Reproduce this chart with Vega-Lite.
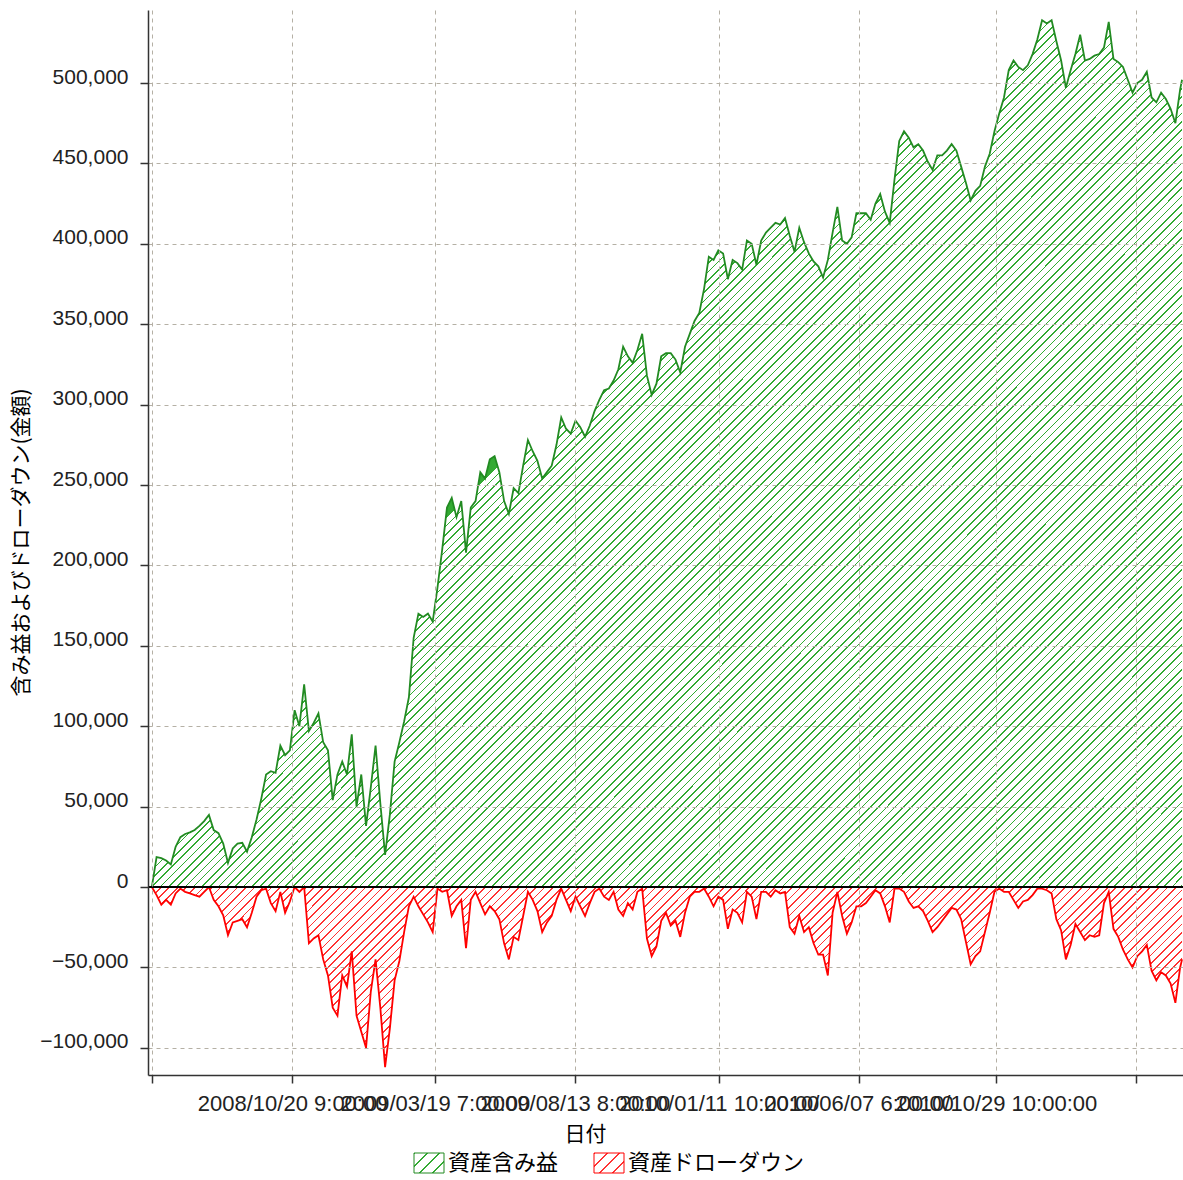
{
"$schema":"https://vega.github.io/schema/vega-lite/v6.json",
"width":1035,"height":1065,
"autosize":{"type":"none"},
"padding":{"left":148,"top":10,"right":0,"bottom":105},
"background":"white",
"data":{"values":[
{"date":"2008-05-26","eq":0,"dd":0},{"date":"2008-05-31","eq":18600,"dd":-5000},{"date":"2008-06-05","eq":18000,"dd":-11000},{"date":"2008-06-10","eq":16500,"dd":-8000},{"date":"2008-06-15","eq":14000,"dd":-11000},{"date":"2008-06-20","eq":25000,"dd":-4000},{"date":"2008-06-25","eq":31000,"dd":-1000},{"date":"2008-06-30","eq":33000,"dd":-3000},
{"date":"2008-07-05","eq":34000,"dd":-4000},{"date":"2008-07-10","eq":35500,"dd":-5000},{"date":"2008-07-15","eq":38000,"dd":-6000},{"date":"2008-07-20","eq":41000,"dd":-3000},{"date":"2008-07-25","eq":44800,"dd":0},{"date":"2008-07-30","eq":35400,"dd":-8000},
{"date":"2008-08-04","eq":33500,"dd":-12000},{"date":"2008-08-09","eq":27000,"dd":-17600},{"date":"2008-08-14","eq":15000,"dd":-30000},{"date":"2008-08-19","eq":24000,"dd":-22000},{"date":"2008-08-24","eq":27000,"dd":-21000},{"date":"2008-08-29","eq":27500,"dd":-20000},
{"date":"2008-09-03","eq":22000,"dd":-25000},{"date":"2008-09-08","eq":31000,"dd":-16000},{"date":"2008-09-13","eq":42000,"dd":-6000},{"date":"2008-09-18","eq":55000,"dd":-2000},{"date":"2008-09-23","eq":70000,"dd":-1000},{"date":"2008-09-28","eq":72000,"dd":-10000},
{"date":"2008-10-03","eq":71000,"dd":-15000},{"date":"2008-10-08","eq":88000,"dd":-3000},{"date":"2008-10-13","eq":82000,"dd":-16000},{"date":"2008-10-18","eq":85000,"dd":-9000},{"date":"2008-10-23","eq":110000,"dd":0},{"date":"2008-10-28","eq":100000,"dd":-3000},
{"date":"2008-11-02","eq":126000,"dd":0},{"date":"2008-11-07","eq":97000,"dd":-35000},{"date":"2008-11-12","eq":102000,"dd":-32000},{"date":"2008-11-17","eq":108000,"dd":-30000},{"date":"2008-11-22","eq":90000,"dd":-45000},{"date":"2008-11-27","eq":85000,"dd":-55000},
{"date":"2008-12-02","eq":54000,"dd":-75000},{"date":"2008-12-07","eq":70000,"dd":-80000},{"date":"2008-12-12","eq":78000,"dd":-55000},{"date":"2008-12-17","eq":70000,"dd":-62000},{"date":"2008-12-22","eq":95000,"dd":-40000},{"date":"2008-12-27","eq":50000,"dd":-80000},
{"date":"2009-01-01","eq":70000,"dd":-90000},{"date":"2009-01-06","eq":38000,"dd":-100000},{"date":"2009-01-11","eq":62000,"dd":-65000},{"date":"2009-01-16","eq":88000,"dd":-45000},{"date":"2009-01-21","eq":52000,"dd":-75000},{"date":"2009-01-26","eq":20000,"dd":-112000},{"date":"2009-01-31","eq":45000,"dd":-88000},
{"date":"2009-02-05","eq":78000,"dd":-58000},{"date":"2009-02-10","eq":90000,"dd":-46000},{"date":"2009-02-15","eq":103000,"dd":-28000},{"date":"2009-02-20","eq":118000,"dd":-12000},{"date":"2009-02-25","eq":155000,"dd":-6000},
{"date":"2009-03-02","eq":170000,"dd":-12000},{"date":"2009-03-07","eq":168000,"dd":-17000},{"date":"2009-03-12","eq":170000,"dd":-22000},{"date":"2009-03-17","eq":165000,"dd":-28000},{"date":"2009-03-22","eq":186000,"dd":-1000},{"date":"2009-03-27","eq":210000,"dd":-3000},
{"date":"2009-04-01","eq":236000,"dd":-2000},{"date":"2009-04-06","eq":242000,"dd":-18000},{"date":"2009-04-11","eq":230000,"dd":-12000},{"date":"2009-04-16","eq":240000,"dd":-8000},{"date":"2009-04-21","eq":208000,"dd":-38000},{"date":"2009-04-26","eq":236000,"dd":-8000},
{"date":"2009-05-01","eq":240000,"dd":-3000},{"date":"2009-05-06","eq":258000,"dd":-10000},{"date":"2009-05-11","eq":254000,"dd":-17000},{"date":"2009-05-16","eq":266000,"dd":-12000},{"date":"2009-05-21","eq":268000,"dd":-15000},{"date":"2009-05-26","eq":258000,"dd":-20000},{"date":"2009-05-31","eq":240000,"dd":-35000},
{"date":"2009-06-05","eq":232000,"dd":-45000},{"date":"2009-06-10","eq":248000,"dd":-31000},{"date":"2009-06-15","eq":245000,"dd":-33000},{"date":"2009-06-20","eq":262000,"dd":-18000},{"date":"2009-06-25","eq":278000,"dd":-3000},{"date":"2009-06-30","eq":271000,"dd":-8000},
{"date":"2009-07-05","eq":265000,"dd":-15000},{"date":"2009-07-10","eq":254000,"dd":-28000},{"date":"2009-07-15","eq":258000,"dd":-22000},{"date":"2009-07-20","eq":262000,"dd":-18000},{"date":"2009-07-25","eq":275000,"dd":-8000},{"date":"2009-07-30","eq":292000,"dd":-1000},
{"date":"2009-08-04","eq":285000,"dd":-8000},{"date":"2009-08-09","eq":282000,"dd":-15000},{"date":"2009-08-14","eq":290000,"dd":-6000},{"date":"2009-08-19","eq":286000,"dd":-12000},{"date":"2009-08-24","eq":280000,"dd":-18000},{"date":"2009-08-29","eq":287000,"dd":-10000},
{"date":"2009-09-03","eq":296000,"dd":-3000},{"date":"2009-09-08","eq":303000,"dd":-1000},{"date":"2009-09-13","eq":309000,"dd":-6000},{"date":"2009-09-18","eq":310000,"dd":-8000},{"date":"2009-09-23","eq":315000,"dd":-3000},{"date":"2009-09-28","eq":322000,"dd":-14000},
{"date":"2009-10-03","eq":336000,"dd":-18000},{"date":"2009-10-08","eq":330000,"dd":-10000},{"date":"2009-10-13","eq":326000,"dd":-14000},{"date":"2009-10-18","eq":334000,"dd":-3000},{"date":"2009-10-23","eq":344000,"dd":-1000},{"date":"2009-10-28","eq":318000,"dd":-32000},
{"date":"2009-11-02","eq":306000,"dd":-43000},{"date":"2009-11-07","eq":313000,"dd":-37000},{"date":"2009-11-12","eq":330000,"dd":-21000},{"date":"2009-11-17","eq":332000,"dd":-16000},{"date":"2009-11-22","eq":332000,"dd":-24000},{"date":"2009-11-27","eq":328000,"dd":-21000},
{"date":"2009-12-02","eq":320000,"dd":-31000},{"date":"2009-12-07","eq":336000,"dd":-16000},{"date":"2009-12-12","eq":344000,"dd":-6000},{"date":"2009-12-17","eq":352000,"dd":-3000},{"date":"2009-12-22","eq":357000,"dd":-3000},{"date":"2009-12-27","eq":372000,"dd":-1000},
{"date":"2010-01-01","eq":392000,"dd":-6000},{"date":"2010-01-06","eq":390000,"dd":-12000},{"date":"2010-01-11","eq":396000,"dd":-6000},{"date":"2010-01-16","eq":394000,"dd":-8000},{"date":"2010-01-21","eq":378000,"dd":-26000},{"date":"2010-01-26","eq":390000,"dd":-14000},{"date":"2010-01-31","eq":388000,"dd":-16000},
{"date":"2010-02-05","eq":384000,"dd":-22000},{"date":"2010-02-10","eq":402000,"dd":-3000},{"date":"2010-02-15","eq":400000,"dd":-6000},{"date":"2010-02-20","eq":387000,"dd":-20000},{"date":"2010-02-25","eq":402000,"dd":-3000},
{"date":"2010-03-02","eq":407000,"dd":-3000},{"date":"2010-03-07","eq":410000,"dd":-6000},{"date":"2010-03-12","eq":413000,"dd":-2000},{"date":"2010-03-17","eq":412000,"dd":-4000},{"date":"2010-03-22","eq":416000,"dd":-3000},{"date":"2010-03-27","eq":405000,"dd":-25000},
{"date":"2010-04-01","eq":395000,"dd":-29000},{"date":"2010-04-06","eq":410000,"dd":-18000},{"date":"2010-04-11","eq":401000,"dd":-28000},{"date":"2010-04-16","eq":394000,"dd":-25000},{"date":"2010-04-21","eq":389000,"dd":-35000},{"date":"2010-04-26","eq":386000,"dd":-42000},
{"date":"2010-05-01","eq":379000,"dd":-42000},{"date":"2010-05-06","eq":390000,"dd":-55000},{"date":"2010-05-11","eq":407000,"dd":-16000},{"date":"2010-05-16","eq":423000,"dd":-3000},{"date":"2010-05-21","eq":402000,"dd":-18000},{"date":"2010-05-26","eq":400000,"dd":-29000},{"date":"2010-05-31","eq":404000,"dd":-22000},
{"date":"2010-06-05","eq":419000,"dd":-12000},{"date":"2010-06-10","eq":419000,"dd":-12000},{"date":"2010-06-15","eq":419000,"dd":-10000},{"date":"2010-06-20","eq":415000,"dd":-6000},{"date":"2010-06-25","eq":425000,"dd":-2000},{"date":"2010-06-30","eq":431000,"dd":-4000},
{"date":"2010-07-05","eq":420000,"dd":-12000},{"date":"2010-07-10","eq":413000,"dd":-22000},{"date":"2010-07-15","eq":440000,"dd":-1000},{"date":"2010-07-20","eq":464000,"dd":-1000},{"date":"2010-07-25","eq":470000,"dd":-3000},{"date":"2010-07-30","eq":466000,"dd":-9000},
{"date":"2010-08-04","eq":460000,"dd":-13000},{"date":"2010-08-09","eq":462000,"dd":-12000},{"date":"2010-08-14","eq":458000,"dd":-15000},{"date":"2010-08-19","eq":451000,"dd":-21000},{"date":"2010-08-24","eq":446000,"dd":-28000},{"date":"2010-08-29","eq":455000,"dd":-25000},
{"date":"2010-09-03","eq":455000,"dd":-21000},{"date":"2010-09-08","eq":458000,"dd":-17000},{"date":"2010-09-13","eq":462000,"dd":-13000},{"date":"2010-09-18","eq":458000,"dd":-14000},{"date":"2010-09-23","eq":448000,"dd":-20000},{"date":"2010-09-28","eq":438000,"dd":-34000},
{"date":"2010-10-03","eq":427000,"dd":-48000},{"date":"2010-10-08","eq":433000,"dd":-43000},{"date":"2010-10-13","eq":436000,"dd":-40000},{"date":"2010-10-18","eq":448000,"dd":-28000},{"date":"2010-10-23","eq":456000,"dd":-16000},{"date":"2010-10-28","eq":470000,"dd":-3000},
{"date":"2010-11-02","eq":481000,"dd":-1000},{"date":"2010-11-07","eq":491000,"dd":-3000},{"date":"2010-11-12","eq":508000,"dd":-3000},{"date":"2010-11-17","eq":514000,"dd":-8000},{"date":"2010-11-22","eq":510000,"dd":-13000},{"date":"2010-11-27","eq":508000,"dd":-9000},
{"date":"2010-12-02","eq":511000,"dd":-8000},{"date":"2010-12-07","eq":518000,"dd":-5000},{"date":"2010-12-12","eq":527000,"dd":-1000},{"date":"2010-12-17","eq":539000,"dd":-1000},{"date":"2010-12-22","eq":537000,"dd":-2000},{"date":"2010-12-27","eq":539000,"dd":-4000},
{"date":"2011-01-01","eq":526000,"dd":-20000},{"date":"2011-01-06","eq":514000,"dd":-27000},{"date":"2011-01-11","eq":497000,"dd":-45000},{"date":"2011-01-16","eq":508000,"dd":-36000},{"date":"2011-01-21","eq":518000,"dd":-23000},{"date":"2011-01-26","eq":530000,"dd":-28000},{"date":"2011-01-31","eq":514000,"dd":-33000},
{"date":"2011-02-05","eq":515000,"dd":-30000},{"date":"2011-02-10","eq":517000,"dd":-31000},{"date":"2011-02-15","eq":518000,"dd":-30000},{"date":"2011-02-20","eq":522000,"dd":-10000},{"date":"2011-02-25","eq":538000,"dd":-3000},
{"date":"2011-03-02","eq":515000,"dd":-26000},{"date":"2011-03-07","eq":513000,"dd":-31000},{"date":"2011-03-12","eq":510000,"dd":-39000},{"date":"2011-03-17","eq":502000,"dd":-45000},{"date":"2011-03-22","eq":494000,"dd":-50000},{"date":"2011-03-27","eq":500000,"dd":-43000},
{"date":"2011-04-01","eq":502000,"dd":-40000},{"date":"2011-04-06","eq":507000,"dd":-36000},{"date":"2011-04-11","eq":491000,"dd":-52000},{"date":"2011-04-16","eq":488000,"dd":-58000},{"date":"2011-04-21","eq":494000,"dd":-53000},{"date":"2011-04-26","eq":490000,"dd":-55000},
{"date":"2011-05-01","eq":484000,"dd":-60000},{"date":"2011-05-06","eq":475000,"dd":-72000},{"date":"2011-05-11","eq":496000,"dd":-50000},{"date":"2011-05-13","eq":502000,"dd":-45000}
]},
"layer":[
{"encoding":{"x":{"field":"date","type":"temporal","title":"日付",
  "scale":{"domain":[{"year":2008,"month":5,"date":22},{"year":2011,"month":5,"date":14}]},
  "axis":{"zindex":1,"values":[{"year":2008,"month":5,"date":26,"hours":5},{"year":2008,"month":10,"date":20,"hours":9},{"year":2009,"month":3,"date":19,"hours":7},{"year":2009,"month":8,"date":13,"hours":8},{"year":2010,"month":1,"date":11,"hours":10},{"year":2010,"month":6,"date":7,"hours":6},{"year":2010,"month":10,"date":29,"hours":10},{"year":2011,"month":3,"date":25,"hours":14}],
   "labelExpr":"datum.value < datetime(2008,6,1) || datum.value > datetime(2011,0,1) ? '' : timeFormat(datum.value, '%Y/%m/%d %-H:%M:%S')",
   "labelOverlap":false,"labelBound":false,"labelFlush":false,"labelPadding":10,"labelFontSize":22,"labelLimit":0,
   "titleX":437,"titleY":59,"titleBaseline":"middle","titleAlign":"center","titleAnchor":"start"}}},
 "layer":[
  {"mark":{"type":"area","fill":{"gradient":"linear","x1":0.4495,"y1":0.3779,"x2":1.0785,"y2":0.9066,"stops":[
{"offset":0,"color":"#3a3"},{"offset":0.0015,"color":"#3a3"},{"offset":0.0015,"color":"#fff"},{"offset":0.0075,"color":"#fff"},{"offset":0.0075,"color":"#3a3"},{"offset":0.009,"color":"#3a3"},{"offset":0.009,"color":"#fff"},{"offset":0.015,"color":"#fff"},{"offset":0.015,"color":"#3a3"},{"offset":0.0165,"color":"#3a3"},{"offset":0.0165,"color":"#fff"},{"offset":0.0225,"color":"#fff"},{"offset":0.0225,"color":"#3a3"},{"offset":0.024,"color":"#3a3"},{"offset":0.024,"color":"#fff"},{"offset":0.03,"color":"#fff"},
{"offset":0.03,"color":"#3a3"},{"offset":0.0315,"color":"#3a3"},{"offset":0.0315,"color":"#fff"},{"offset":0.0375,"color":"#fff"},{"offset":0.0375,"color":"#3a3"},{"offset":0.039,"color":"#3a3"},{"offset":0.039,"color":"#fff"},{"offset":0.045,"color":"#fff"},{"offset":0.045,"color":"#3a3"},{"offset":0.0465,"color":"#3a3"},{"offset":0.0465,"color":"#fff"},{"offset":0.0525,"color":"#fff"},{"offset":0.0525,"color":"#3a3"},{"offset":0.054,"color":"#3a3"},{"offset":0.054,"color":"#fff"},{"offset":0.06,"color":"#fff"},
{"offset":0.06,"color":"#3a3"},{"offset":0.0615,"color":"#3a3"},{"offset":0.0615,"color":"#fff"},{"offset":0.0675,"color":"#fff"},{"offset":0.0675,"color":"#3a3"},{"offset":0.069,"color":"#3a3"},{"offset":0.069,"color":"#fff"},{"offset":0.075,"color":"#fff"},{"offset":0.075,"color":"#3a3"},{"offset":0.0765,"color":"#3a3"},{"offset":0.0765,"color":"#fff"},{"offset":0.0825,"color":"#fff"},{"offset":0.0825,"color":"#3a3"},{"offset":0.084,"color":"#3a3"},{"offset":0.084,"color":"#fff"},{"offset":0.09,"color":"#fff"},
{"offset":0.09,"color":"#3a3"},{"offset":0.0915,"color":"#3a3"},{"offset":0.0915,"color":"#fff"},{"offset":0.0975,"color":"#fff"},{"offset":0.0975,"color":"#3a3"},{"offset":0.099,"color":"#3a3"},{"offset":0.099,"color":"#fff"},{"offset":0.105,"color":"#fff"},{"offset":0.105,"color":"#3a3"},{"offset":0.1065,"color":"#3a3"},{"offset":0.1065,"color":"#fff"},{"offset":0.1125,"color":"#fff"},{"offset":0.1125,"color":"#3a3"},{"offset":0.114,"color":"#3a3"},{"offset":0.114,"color":"#fff"},{"offset":0.12,"color":"#fff"},
{"offset":0.12,"color":"#3a3"},{"offset":0.1215,"color":"#3a3"},{"offset":0.1215,"color":"#fff"},{"offset":0.1275,"color":"#fff"},{"offset":0.1275,"color":"#3a3"},{"offset":0.129,"color":"#3a3"},{"offset":0.129,"color":"#fff"},{"offset":0.135,"color":"#fff"},{"offset":0.135,"color":"#3a3"},{"offset":0.1365,"color":"#3a3"},{"offset":0.1365,"color":"#fff"},{"offset":0.1425,"color":"#fff"},{"offset":0.1425,"color":"#3a3"},{"offset":0.144,"color":"#3a3"},{"offset":0.144,"color":"#fff"},{"offset":0.15,"color":"#fff"},
{"offset":0.15,"color":"#3a3"},{"offset":0.1515,"color":"#3a3"},{"offset":0.1515,"color":"#fff"},{"offset":0.1575,"color":"#fff"},{"offset":0.1575,"color":"#3a3"},{"offset":0.159,"color":"#3a3"},{"offset":0.159,"color":"#fff"},{"offset":0.165,"color":"#fff"},{"offset":0.165,"color":"#3a3"},{"offset":0.1665,"color":"#3a3"},{"offset":0.1665,"color":"#fff"},{"offset":0.1725,"color":"#fff"},{"offset":0.1725,"color":"#3a3"},{"offset":0.174,"color":"#3a3"},{"offset":0.174,"color":"#fff"},{"offset":0.18,"color":"#fff"},
{"offset":0.18,"color":"#3a3"},{"offset":0.1815,"color":"#3a3"},{"offset":0.1815,"color":"#fff"},{"offset":0.1875,"color":"#fff"},{"offset":0.1875,"color":"#3a3"},{"offset":0.189,"color":"#3a3"},{"offset":0.189,"color":"#fff"},{"offset":0.195,"color":"#fff"},{"offset":0.195,"color":"#3a3"},{"offset":0.1965,"color":"#3a3"},{"offset":0.1965,"color":"#fff"},{"offset":0.2025,"color":"#fff"},{"offset":0.2025,"color":"#3a3"},{"offset":0.204,"color":"#3a3"},{"offset":0.204,"color":"#fff"},{"offset":0.21,"color":"#fff"},
{"offset":0.21,"color":"#3a3"},{"offset":0.2115,"color":"#3a3"},{"offset":0.2115,"color":"#fff"},{"offset":0.2175,"color":"#fff"},{"offset":0.2175,"color":"#3a3"},{"offset":0.219,"color":"#3a3"},{"offset":0.219,"color":"#fff"},{"offset":0.225,"color":"#fff"},{"offset":0.225,"color":"#3a3"},{"offset":0.2265,"color":"#3a3"},{"offset":0.2265,"color":"#fff"},{"offset":0.2325,"color":"#fff"},{"offset":0.2325,"color":"#3a3"},{"offset":0.234,"color":"#3a3"},{"offset":0.234,"color":"#fff"},{"offset":0.24,"color":"#fff"},
{"offset":0.24,"color":"#3a3"},{"offset":0.2415,"color":"#3a3"},{"offset":0.2415,"color":"#fff"},{"offset":0.2475,"color":"#fff"},{"offset":0.2475,"color":"#3a3"},{"offset":0.249,"color":"#3a3"},{"offset":0.249,"color":"#fff"},{"offset":0.255,"color":"#fff"},{"offset":0.255,"color":"#3a3"},{"offset":0.2565,"color":"#3a3"},{"offset":0.2565,"color":"#fff"},{"offset":0.2625,"color":"#fff"},{"offset":0.2625,"color":"#3a3"},{"offset":0.264,"color":"#3a3"},{"offset":0.264,"color":"#fff"},{"offset":0.27,"color":"#fff"},
{"offset":0.27,"color":"#3a3"},{"offset":0.2715,"color":"#3a3"},{"offset":0.2715,"color":"#fff"},{"offset":0.2775,"color":"#fff"},{"offset":0.2775,"color":"#3a3"},{"offset":0.279,"color":"#3a3"},{"offset":0.279,"color":"#fff"},{"offset":0.285,"color":"#fff"},{"offset":0.285,"color":"#3a3"},{"offset":0.2865,"color":"#3a3"},{"offset":0.2865,"color":"#fff"},{"offset":0.2925,"color":"#fff"},{"offset":0.2925,"color":"#3a3"},{"offset":0.294,"color":"#3a3"},{"offset":0.294,"color":"#fff"},{"offset":0.3,"color":"#fff"},
{"offset":0.3,"color":"#3a3"},{"offset":0.3015,"color":"#3a3"},{"offset":0.3015,"color":"#fff"},{"offset":0.3075,"color":"#fff"},{"offset":0.3075,"color":"#3a3"},{"offset":0.309,"color":"#3a3"},{"offset":0.309,"color":"#fff"},{"offset":0.315,"color":"#fff"},{"offset":0.315,"color":"#3a3"},{"offset":0.3165,"color":"#3a3"},{"offset":0.3165,"color":"#fff"},{"offset":0.3225,"color":"#fff"},{"offset":0.3225,"color":"#3a3"},{"offset":0.324,"color":"#3a3"},{"offset":0.324,"color":"#fff"},{"offset":0.33,"color":"#fff"},
{"offset":0.33,"color":"#3a3"},{"offset":0.3315,"color":"#3a3"},{"offset":0.3315,"color":"#fff"},{"offset":0.3375,"color":"#fff"},{"offset":0.3375,"color":"#3a3"},{"offset":0.339,"color":"#3a3"},{"offset":0.339,"color":"#fff"},{"offset":0.345,"color":"#fff"},{"offset":0.345,"color":"#3a3"},{"offset":0.3465,"color":"#3a3"},{"offset":0.3465,"color":"#fff"},{"offset":0.3525,"color":"#fff"},{"offset":0.3525,"color":"#3a3"},{"offset":0.354,"color":"#3a3"},{"offset":0.354,"color":"#fff"},{"offset":0.36,"color":"#fff"},
{"offset":0.36,"color":"#3a3"},{"offset":0.3615,"color":"#3a3"},{"offset":0.3615,"color":"#fff"},{"offset":0.3675,"color":"#fff"},{"offset":0.3675,"color":"#3a3"},{"offset":0.369,"color":"#3a3"},{"offset":0.369,"color":"#fff"},{"offset":0.375,"color":"#fff"},{"offset":0.375,"color":"#3a3"},{"offset":0.3765,"color":"#3a3"},{"offset":0.3765,"color":"#fff"},{"offset":0.3825,"color":"#fff"},{"offset":0.3825,"color":"#3a3"},{"offset":0.384,"color":"#3a3"},{"offset":0.384,"color":"#fff"},{"offset":0.39,"color":"#fff"},
{"offset":0.39,"color":"#3a3"},{"offset":0.3915,"color":"#3a3"},{"offset":0.3915,"color":"#fff"},{"offset":0.3975,"color":"#fff"},{"offset":0.3975,"color":"#3a3"},{"offset":0.399,"color":"#3a3"},{"offset":0.399,"color":"#fff"},{"offset":0.405,"color":"#fff"},{"offset":0.405,"color":"#3a3"},{"offset":0.4065,"color":"#3a3"},{"offset":0.4065,"color":"#fff"},{"offset":0.4125,"color":"#fff"},{"offset":0.4125,"color":"#3a3"},{"offset":0.414,"color":"#3a3"},{"offset":0.414,"color":"#fff"},{"offset":0.42,"color":"#fff"},
{"offset":0.42,"color":"#3a3"},{"offset":0.4215,"color":"#3a3"},{"offset":0.4215,"color":"#fff"},{"offset":0.4275,"color":"#fff"},{"offset":0.4275,"color":"#3a3"},{"offset":0.429,"color":"#3a3"},{"offset":0.429,"color":"#fff"},{"offset":0.435,"color":"#fff"},{"offset":0.435,"color":"#3a3"},{"offset":0.4365,"color":"#3a3"},{"offset":0.4365,"color":"#fff"},{"offset":0.4425,"color":"#fff"},{"offset":0.4425,"color":"#3a3"},{"offset":0.444,"color":"#3a3"},{"offset":0.444,"color":"#fff"},{"offset":0.45,"color":"#fff"},
{"offset":0.45,"color":"#3a3"},{"offset":0.4515,"color":"#3a3"},{"offset":0.4515,"color":"#fff"},{"offset":0.4575,"color":"#fff"},{"offset":0.4575,"color":"#3a3"},{"offset":0.459,"color":"#3a3"},{"offset":0.459,"color":"#fff"},{"offset":0.465,"color":"#fff"},{"offset":0.465,"color":"#3a3"},{"offset":0.4665,"color":"#3a3"},{"offset":0.4665,"color":"#fff"},{"offset":0.4725,"color":"#fff"},{"offset":0.4725,"color":"#3a3"},{"offset":0.474,"color":"#3a3"},{"offset":0.474,"color":"#fff"},{"offset":0.48,"color":"#fff"},
{"offset":0.48,"color":"#3a3"},{"offset":0.4815,"color":"#3a3"},{"offset":0.4815,"color":"#fff"},{"offset":0.4875,"color":"#fff"},{"offset":0.4875,"color":"#3a3"},{"offset":0.489,"color":"#3a3"},{"offset":0.489,"color":"#fff"},{"offset":0.495,"color":"#fff"},{"offset":0.495,"color":"#3a3"},{"offset":0.4965,"color":"#3a3"},{"offset":0.4965,"color":"#fff"},{"offset":0.5025,"color":"#fff"},{"offset":0.5025,"color":"#3a3"},{"offset":0.504,"color":"#3a3"},{"offset":0.504,"color":"#fff"},{"offset":0.51,"color":"#fff"},
{"offset":0.51,"color":"#3a3"},{"offset":0.5115,"color":"#3a3"},{"offset":0.5115,"color":"#fff"},{"offset":0.5175,"color":"#fff"},{"offset":0.5175,"color":"#3a3"},{"offset":0.519,"color":"#3a3"},{"offset":0.519,"color":"#fff"},{"offset":0.525,"color":"#fff"},{"offset":0.525,"color":"#3a3"},{"offset":0.5265,"color":"#3a3"},{"offset":0.5265,"color":"#fff"},{"offset":0.5325,"color":"#fff"},{"offset":0.5325,"color":"#3a3"},{"offset":0.534,"color":"#3a3"},{"offset":0.534,"color":"#fff"},{"offset":0.54,"color":"#fff"},
{"offset":0.54,"color":"#3a3"},{"offset":0.5415,"color":"#3a3"},{"offset":0.5415,"color":"#fff"},{"offset":0.5475,"color":"#fff"},{"offset":0.5475,"color":"#3a3"},{"offset":0.549,"color":"#3a3"},{"offset":0.549,"color":"#fff"},{"offset":0.555,"color":"#fff"},{"offset":0.555,"color":"#3a3"},{"offset":0.5565,"color":"#3a3"},{"offset":0.5565,"color":"#fff"},{"offset":0.5625,"color":"#fff"},{"offset":0.5625,"color":"#3a3"},{"offset":0.564,"color":"#3a3"},{"offset":0.564,"color":"#fff"},{"offset":0.57,"color":"#fff"},
{"offset":0.57,"color":"#3a3"},{"offset":0.5715,"color":"#3a3"},{"offset":0.5715,"color":"#fff"},{"offset":0.5775,"color":"#fff"},{"offset":0.5775,"color":"#3a3"},{"offset":0.579,"color":"#3a3"},{"offset":0.579,"color":"#fff"},{"offset":0.585,"color":"#fff"},{"offset":0.585,"color":"#3a3"},{"offset":0.5865,"color":"#3a3"},{"offset":0.5865,"color":"#fff"},{"offset":0.5925,"color":"#fff"},{"offset":0.5925,"color":"#3a3"},{"offset":0.594,"color":"#3a3"},{"offset":0.594,"color":"#fff"},{"offset":0.6,"color":"#fff"},
{"offset":0.6,"color":"#3a3"},{"offset":0.6015,"color":"#3a3"},{"offset":0.6015,"color":"#fff"},{"offset":0.6075,"color":"#fff"},{"offset":0.6075,"color":"#3a3"},{"offset":0.609,"color":"#3a3"},{"offset":0.609,"color":"#fff"},{"offset":0.615,"color":"#fff"},{"offset":0.615,"color":"#3a3"},{"offset":0.6165,"color":"#3a3"},{"offset":0.6165,"color":"#fff"},{"offset":0.6225,"color":"#fff"},{"offset":0.6225,"color":"#3a3"},{"offset":0.624,"color":"#3a3"},{"offset":0.624,"color":"#fff"},{"offset":0.63,"color":"#fff"},
{"offset":0.63,"color":"#3a3"},{"offset":0.6315,"color":"#3a3"},{"offset":0.6315,"color":"#fff"},{"offset":0.6375,"color":"#fff"},{"offset":0.6375,"color":"#3a3"},{"offset":0.639,"color":"#3a3"},{"offset":0.639,"color":"#fff"},{"offset":0.645,"color":"#fff"},{"offset":0.645,"color":"#3a3"},{"offset":0.6465,"color":"#3a3"},{"offset":0.6465,"color":"#fff"},{"offset":0.6525,"color":"#fff"},{"offset":0.6525,"color":"#3a3"},{"offset":0.654,"color":"#3a3"},{"offset":0.654,"color":"#fff"},{"offset":0.66,"color":"#fff"},
{"offset":0.66,"color":"#3a3"},{"offset":0.6615,"color":"#3a3"},{"offset":0.6615,"color":"#fff"},{"offset":0.6675,"color":"#fff"},{"offset":0.6675,"color":"#3a3"},{"offset":0.669,"color":"#3a3"},{"offset":0.669,"color":"#fff"},{"offset":0.675,"color":"#fff"},{"offset":0.675,"color":"#3a3"},{"offset":0.6765,"color":"#3a3"},{"offset":0.6765,"color":"#fff"},{"offset":0.6825,"color":"#fff"},{"offset":0.6825,"color":"#3a3"},{"offset":0.684,"color":"#3a3"},{"offset":0.684,"color":"#fff"},{"offset":0.69,"color":"#fff"},
{"offset":0.69,"color":"#3a3"},{"offset":0.6915,"color":"#3a3"},{"offset":0.6915,"color":"#fff"},{"offset":0.6975,"color":"#fff"},{"offset":0.6975,"color":"#3a3"},{"offset":0.699,"color":"#3a3"},{"offset":0.699,"color":"#fff"},{"offset":0.705,"color":"#fff"},{"offset":0.705,"color":"#3a3"},{"offset":0.7065,"color":"#3a3"},{"offset":0.7065,"color":"#fff"},{"offset":0.7125,"color":"#fff"},{"offset":0.7125,"color":"#3a3"},{"offset":0.714,"color":"#3a3"},{"offset":0.714,"color":"#fff"},{"offset":0.72,"color":"#fff"},
{"offset":0.72,"color":"#3a3"},{"offset":0.7215,"color":"#3a3"},{"offset":0.7215,"color":"#fff"},{"offset":0.7275,"color":"#fff"},{"offset":0.7275,"color":"#3a3"},{"offset":0.729,"color":"#3a3"},{"offset":0.729,"color":"#fff"},{"offset":0.735,"color":"#fff"},{"offset":0.735,"color":"#3a3"},{"offset":0.7365,"color":"#3a3"},{"offset":0.7365,"color":"#fff"},{"offset":0.7425,"color":"#fff"},{"offset":0.7425,"color":"#3a3"},{"offset":0.744,"color":"#3a3"},{"offset":0.744,"color":"#fff"},{"offset":0.75,"color":"#fff"},
{"offset":0.75,"color":"#3a3"},{"offset":0.7515,"color":"#3a3"},{"offset":0.7515,"color":"#fff"},{"offset":0.7575,"color":"#fff"},{"offset":0.7575,"color":"#3a3"},{"offset":0.759,"color":"#3a3"},{"offset":0.759,"color":"#fff"},{"offset":0.765,"color":"#fff"},{"offset":0.765,"color":"#3a3"},{"offset":0.7665,"color":"#3a3"},{"offset":0.7665,"color":"#fff"},{"offset":0.7725,"color":"#fff"},{"offset":0.7725,"color":"#3a3"},{"offset":0.774,"color":"#3a3"},{"offset":0.774,"color":"#fff"},{"offset":0.78,"color":"#fff"},
{"offset":0.78,"color":"#3a3"},{"offset":0.7815,"color":"#3a3"},{"offset":0.7815,"color":"#fff"},{"offset":0.7875,"color":"#fff"},{"offset":0.7875,"color":"#3a3"},{"offset":0.789,"color":"#3a3"},{"offset":0.789,"color":"#fff"},{"offset":0.795,"color":"#fff"},{"offset":0.795,"color":"#3a3"},{"offset":0.7965,"color":"#3a3"},{"offset":0.7965,"color":"#fff"},{"offset":0.8025,"color":"#fff"},{"offset":0.8025,"color":"#3a3"},{"offset":0.804,"color":"#3a3"},{"offset":0.804,"color":"#fff"},{"offset":0.81,"color":"#fff"},
{"offset":0.81,"color":"#3a3"},{"offset":0.8115,"color":"#3a3"},{"offset":0.8115,"color":"#fff"},{"offset":0.8175,"color":"#fff"},{"offset":0.8175,"color":"#3a3"},{"offset":0.819,"color":"#3a3"},{"offset":0.819,"color":"#fff"},{"offset":0.825,"color":"#fff"},{"offset":0.825,"color":"#3a3"},{"offset":0.8265,"color":"#3a3"},{"offset":0.8265,"color":"#fff"},{"offset":0.8325,"color":"#fff"},{"offset":0.8325,"color":"#3a3"},{"offset":0.834,"color":"#3a3"},{"offset":0.834,"color":"#fff"},{"offset":0.84,"color":"#fff"},
{"offset":0.84,"color":"#3a3"},{"offset":0.8415,"color":"#3a3"},{"offset":0.8415,"color":"#fff"},{"offset":0.8475,"color":"#fff"},{"offset":0.8475,"color":"#3a3"},{"offset":0.849,"color":"#3a3"},{"offset":0.849,"color":"#fff"},{"offset":0.855,"color":"#fff"},{"offset":0.855,"color":"#3a3"},{"offset":0.8565,"color":"#3a3"},{"offset":0.8565,"color":"#fff"},{"offset":0.8625,"color":"#fff"},{"offset":0.8625,"color":"#3a3"},{"offset":0.864,"color":"#3a3"},{"offset":0.864,"color":"#fff"},{"offset":0.87,"color":"#fff"},
{"offset":0.87,"color":"#3a3"},{"offset":0.8715,"color":"#3a3"},{"offset":0.8715,"color":"#fff"},{"offset":0.8775,"color":"#fff"},{"offset":0.8775,"color":"#3a3"},{"offset":0.879,"color":"#3a3"},{"offset":0.879,"color":"#fff"},{"offset":0.885,"color":"#fff"},{"offset":0.885,"color":"#3a3"},{"offset":0.8865,"color":"#3a3"},{"offset":0.8865,"color":"#fff"},{"offset":0.8925,"color":"#fff"},{"offset":0.8925,"color":"#3a3"},{"offset":0.894,"color":"#3a3"},{"offset":0.894,"color":"#fff"},{"offset":0.9,"color":"#fff"},
{"offset":0.9,"color":"#3a3"},{"offset":0.9015,"color":"#3a3"},{"offset":0.9015,"color":"#fff"},{"offset":0.9075,"color":"#fff"},{"offset":0.9075,"color":"#3a3"},{"offset":0.909,"color":"#3a3"},{"offset":0.909,"color":"#fff"},{"offset":0.915,"color":"#fff"},{"offset":0.915,"color":"#3a3"},{"offset":0.9165,"color":"#3a3"},{"offset":0.9165,"color":"#fff"},{"offset":0.9225,"color":"#fff"},{"offset":0.9225,"color":"#3a3"},{"offset":0.924,"color":"#3a3"},{"offset":0.924,"color":"#fff"},{"offset":0.93,"color":"#fff"},
{"offset":0.93,"color":"#3a3"},{"offset":0.9315,"color":"#3a3"},{"offset":0.9315,"color":"#fff"},{"offset":0.9375,"color":"#fff"},{"offset":0.9375,"color":"#3a3"},{"offset":0.939,"color":"#3a3"},{"offset":0.939,"color":"#fff"},{"offset":0.945,"color":"#fff"},{"offset":0.945,"color":"#3a3"},{"offset":0.9465,"color":"#3a3"},{"offset":0.9465,"color":"#fff"},{"offset":0.9525,"color":"#fff"},{"offset":0.9525,"color":"#3a3"},{"offset":0.954,"color":"#3a3"},{"offset":0.954,"color":"#fff"},{"offset":0.96,"color":"#fff"},
{"offset":0.96,"color":"#3a3"},{"offset":0.9615,"color":"#3a3"},{"offset":0.9615,"color":"#fff"},{"offset":0.9675,"color":"#fff"},{"offset":0.9675,"color":"#3a3"},{"offset":0.969,"color":"#3a3"},{"offset":0.969,"color":"#fff"},{"offset":0.975,"color":"#fff"},{"offset":0.975,"color":"#3a3"},{"offset":0.9765,"color":"#3a3"},{"offset":0.9765,"color":"#fff"},{"offset":0.9825,"color":"#fff"},{"offset":0.9825,"color":"#3a3"},{"offset":0.984,"color":"#3a3"},{"offset":0.984,"color":"#fff"},{"offset":0.99,"color":"#fff"},
{"offset":0.99,"color":"#3a3"},{"offset":0.9915,"color":"#3a3"},{"offset":0.9915,"color":"#fff"},{"offset":0.9975,"color":"#fff"},{"offset":0.9975,"color":"#3a3"},{"offset":0.999,"color":"#3a3"},{"offset":0.999,"color":"#fff"},{"offset":1,"color":"#fff"}
]}},
   "encoding":{"y":{"field":"eq","type":"quantitative","title":"含み益およびドローダウン(金額)",
     "scale":{"domain":[-116900,545400],"nice":false,"zero":false},
     "axis":{"zindex":1,"values":[-100000,-50000,0,50000,100000,150000,200000,250000,300000,350000,400000,450000,500000],"format":",.0f","labelBaseline":"alphabetic","labelPadding":12,
       "gridOpacity":{"condition":{"test":"datum.value === 0","value":0},"value":1},
       "titleX":-127,"titleY":532,"titleAngle":-90,"titleBaseline":"middle","titleAlign":"center"}}}},
  {"mark":{"type":"area","fill":{"gradient":"linear","x1":0,"y1":0,"x2":1.0714,"y2":0.1871,"stops":[
{"offset":0,"color":"#f33"},{"offset":0.0015,"color":"#f33"},{"offset":0.0015,"color":"#fff"},{"offset":0.0075,"color":"#fff"},{"offset":0.0075,"color":"#f33"},{"offset":0.009,"color":"#f33"},{"offset":0.009,"color":"#fff"},{"offset":0.015,"color":"#fff"},{"offset":0.015,"color":"#f33"},{"offset":0.0165,"color":"#f33"},{"offset":0.0165,"color":"#fff"},{"offset":0.0225,"color":"#fff"},{"offset":0.0225,"color":"#f33"},{"offset":0.024,"color":"#f33"},{"offset":0.024,"color":"#fff"},{"offset":0.03,"color":"#fff"},
{"offset":0.03,"color":"#f33"},{"offset":0.0315,"color":"#f33"},{"offset":0.0315,"color":"#fff"},{"offset":0.0375,"color":"#fff"},{"offset":0.0375,"color":"#f33"},{"offset":0.039,"color":"#f33"},{"offset":0.039,"color":"#fff"},{"offset":0.045,"color":"#fff"},{"offset":0.045,"color":"#f33"},{"offset":0.0465,"color":"#f33"},{"offset":0.0465,"color":"#fff"},{"offset":0.0525,"color":"#fff"},{"offset":0.0525,"color":"#f33"},{"offset":0.054,"color":"#f33"},{"offset":0.054,"color":"#fff"},{"offset":0.06,"color":"#fff"},
{"offset":0.06,"color":"#f33"},{"offset":0.0615,"color":"#f33"},{"offset":0.0615,"color":"#fff"},{"offset":0.0675,"color":"#fff"},{"offset":0.0675,"color":"#f33"},{"offset":0.069,"color":"#f33"},{"offset":0.069,"color":"#fff"},{"offset":0.075,"color":"#fff"},{"offset":0.075,"color":"#f33"},{"offset":0.0765,"color":"#f33"},{"offset":0.0765,"color":"#fff"},{"offset":0.0825,"color":"#fff"},{"offset":0.0825,"color":"#f33"},{"offset":0.084,"color":"#f33"},{"offset":0.084,"color":"#fff"},{"offset":0.09,"color":"#fff"},
{"offset":0.09,"color":"#f33"},{"offset":0.0915,"color":"#f33"},{"offset":0.0915,"color":"#fff"},{"offset":0.0975,"color":"#fff"},{"offset":0.0975,"color":"#f33"},{"offset":0.099,"color":"#f33"},{"offset":0.099,"color":"#fff"},{"offset":0.105,"color":"#fff"},{"offset":0.105,"color":"#f33"},{"offset":0.1065,"color":"#f33"},{"offset":0.1065,"color":"#fff"},{"offset":0.1125,"color":"#fff"},{"offset":0.1125,"color":"#f33"},{"offset":0.114,"color":"#f33"},{"offset":0.114,"color":"#fff"},{"offset":0.12,"color":"#fff"},
{"offset":0.12,"color":"#f33"},{"offset":0.1215,"color":"#f33"},{"offset":0.1215,"color":"#fff"},{"offset":0.1275,"color":"#fff"},{"offset":0.1275,"color":"#f33"},{"offset":0.129,"color":"#f33"},{"offset":0.129,"color":"#fff"},{"offset":0.135,"color":"#fff"},{"offset":0.135,"color":"#f33"},{"offset":0.1365,"color":"#f33"},{"offset":0.1365,"color":"#fff"},{"offset":0.1425,"color":"#fff"},{"offset":0.1425,"color":"#f33"},{"offset":0.144,"color":"#f33"},{"offset":0.144,"color":"#fff"},{"offset":0.15,"color":"#fff"},
{"offset":0.15,"color":"#f33"},{"offset":0.1515,"color":"#f33"},{"offset":0.1515,"color":"#fff"},{"offset":0.1575,"color":"#fff"},{"offset":0.1575,"color":"#f33"},{"offset":0.159,"color":"#f33"},{"offset":0.159,"color":"#fff"},{"offset":0.165,"color":"#fff"},{"offset":0.165,"color":"#f33"},{"offset":0.1665,"color":"#f33"},{"offset":0.1665,"color":"#fff"},{"offset":0.1725,"color":"#fff"},{"offset":0.1725,"color":"#f33"},{"offset":0.174,"color":"#f33"},{"offset":0.174,"color":"#fff"},{"offset":0.18,"color":"#fff"},
{"offset":0.18,"color":"#f33"},{"offset":0.1815,"color":"#f33"},{"offset":0.1815,"color":"#fff"},{"offset":0.1875,"color":"#fff"},{"offset":0.1875,"color":"#f33"},{"offset":0.189,"color":"#f33"},{"offset":0.189,"color":"#fff"},{"offset":0.195,"color":"#fff"},{"offset":0.195,"color":"#f33"},{"offset":0.1965,"color":"#f33"},{"offset":0.1965,"color":"#fff"},{"offset":0.2025,"color":"#fff"},{"offset":0.2025,"color":"#f33"},{"offset":0.204,"color":"#f33"},{"offset":0.204,"color":"#fff"},{"offset":0.21,"color":"#fff"},
{"offset":0.21,"color":"#f33"},{"offset":0.2115,"color":"#f33"},{"offset":0.2115,"color":"#fff"},{"offset":0.2175,"color":"#fff"},{"offset":0.2175,"color":"#f33"},{"offset":0.219,"color":"#f33"},{"offset":0.219,"color":"#fff"},{"offset":0.225,"color":"#fff"},{"offset":0.225,"color":"#f33"},{"offset":0.2265,"color":"#f33"},{"offset":0.2265,"color":"#fff"},{"offset":0.2325,"color":"#fff"},{"offset":0.2325,"color":"#f33"},{"offset":0.234,"color":"#f33"},{"offset":0.234,"color":"#fff"},{"offset":0.24,"color":"#fff"},
{"offset":0.24,"color":"#f33"},{"offset":0.2415,"color":"#f33"},{"offset":0.2415,"color":"#fff"},{"offset":0.2475,"color":"#fff"},{"offset":0.2475,"color":"#f33"},{"offset":0.249,"color":"#f33"},{"offset":0.249,"color":"#fff"},{"offset":0.255,"color":"#fff"},{"offset":0.255,"color":"#f33"},{"offset":0.2565,"color":"#f33"},{"offset":0.2565,"color":"#fff"},{"offset":0.2625,"color":"#fff"},{"offset":0.2625,"color":"#f33"},{"offset":0.264,"color":"#f33"},{"offset":0.264,"color":"#fff"},{"offset":0.27,"color":"#fff"},
{"offset":0.27,"color":"#f33"},{"offset":0.2715,"color":"#f33"},{"offset":0.2715,"color":"#fff"},{"offset":0.2775,"color":"#fff"},{"offset":0.2775,"color":"#f33"},{"offset":0.279,"color":"#f33"},{"offset":0.279,"color":"#fff"},{"offset":0.285,"color":"#fff"},{"offset":0.285,"color":"#f33"},{"offset":0.2865,"color":"#f33"},{"offset":0.2865,"color":"#fff"},{"offset":0.2925,"color":"#fff"},{"offset":0.2925,"color":"#f33"},{"offset":0.294,"color":"#f33"},{"offset":0.294,"color":"#fff"},{"offset":0.3,"color":"#fff"},
{"offset":0.3,"color":"#f33"},{"offset":0.3015,"color":"#f33"},{"offset":0.3015,"color":"#fff"},{"offset":0.3075,"color":"#fff"},{"offset":0.3075,"color":"#f33"},{"offset":0.309,"color":"#f33"},{"offset":0.309,"color":"#fff"},{"offset":0.315,"color":"#fff"},{"offset":0.315,"color":"#f33"},{"offset":0.3165,"color":"#f33"},{"offset":0.3165,"color":"#fff"},{"offset":0.3225,"color":"#fff"},{"offset":0.3225,"color":"#f33"},{"offset":0.324,"color":"#f33"},{"offset":0.324,"color":"#fff"},{"offset":0.33,"color":"#fff"},
{"offset":0.33,"color":"#f33"},{"offset":0.3315,"color":"#f33"},{"offset":0.3315,"color":"#fff"},{"offset":0.3375,"color":"#fff"},{"offset":0.3375,"color":"#f33"},{"offset":0.339,"color":"#f33"},{"offset":0.339,"color":"#fff"},{"offset":0.345,"color":"#fff"},{"offset":0.345,"color":"#f33"},{"offset":0.3465,"color":"#f33"},{"offset":0.3465,"color":"#fff"},{"offset":0.3525,"color":"#fff"},{"offset":0.3525,"color":"#f33"},{"offset":0.354,"color":"#f33"},{"offset":0.354,"color":"#fff"},{"offset":0.36,"color":"#fff"},
{"offset":0.36,"color":"#f33"},{"offset":0.3615,"color":"#f33"},{"offset":0.3615,"color":"#fff"},{"offset":0.3675,"color":"#fff"},{"offset":0.3675,"color":"#f33"},{"offset":0.369,"color":"#f33"},{"offset":0.369,"color":"#fff"},{"offset":0.375,"color":"#fff"},{"offset":0.375,"color":"#f33"},{"offset":0.3765,"color":"#f33"},{"offset":0.3765,"color":"#fff"},{"offset":0.3825,"color":"#fff"},{"offset":0.3825,"color":"#f33"},{"offset":0.384,"color":"#f33"},{"offset":0.384,"color":"#fff"},{"offset":0.39,"color":"#fff"},
{"offset":0.39,"color":"#f33"},{"offset":0.3915,"color":"#f33"},{"offset":0.3915,"color":"#fff"},{"offset":0.3975,"color":"#fff"},{"offset":0.3975,"color":"#f33"},{"offset":0.399,"color":"#f33"},{"offset":0.399,"color":"#fff"},{"offset":0.405,"color":"#fff"},{"offset":0.405,"color":"#f33"},{"offset":0.4065,"color":"#f33"},{"offset":0.4065,"color":"#fff"},{"offset":0.4125,"color":"#fff"},{"offset":0.4125,"color":"#f33"},{"offset":0.414,"color":"#f33"},{"offset":0.414,"color":"#fff"},{"offset":0.42,"color":"#fff"},
{"offset":0.42,"color":"#f33"},{"offset":0.4215,"color":"#f33"},{"offset":0.4215,"color":"#fff"},{"offset":0.4275,"color":"#fff"},{"offset":0.4275,"color":"#f33"},{"offset":0.429,"color":"#f33"},{"offset":0.429,"color":"#fff"},{"offset":0.435,"color":"#fff"},{"offset":0.435,"color":"#f33"},{"offset":0.4365,"color":"#f33"},{"offset":0.4365,"color":"#fff"},{"offset":0.4425,"color":"#fff"},{"offset":0.4425,"color":"#f33"},{"offset":0.444,"color":"#f33"},{"offset":0.444,"color":"#fff"},{"offset":0.45,"color":"#fff"},
{"offset":0.45,"color":"#f33"},{"offset":0.4515,"color":"#f33"},{"offset":0.4515,"color":"#fff"},{"offset":0.4575,"color":"#fff"},{"offset":0.4575,"color":"#f33"},{"offset":0.459,"color":"#f33"},{"offset":0.459,"color":"#fff"},{"offset":0.465,"color":"#fff"},{"offset":0.465,"color":"#f33"},{"offset":0.4665,"color":"#f33"},{"offset":0.4665,"color":"#fff"},{"offset":0.4725,"color":"#fff"},{"offset":0.4725,"color":"#f33"},{"offset":0.474,"color":"#f33"},{"offset":0.474,"color":"#fff"},{"offset":0.48,"color":"#fff"},
{"offset":0.48,"color":"#f33"},{"offset":0.4815,"color":"#f33"},{"offset":0.4815,"color":"#fff"},{"offset":0.4875,"color":"#fff"},{"offset":0.4875,"color":"#f33"},{"offset":0.489,"color":"#f33"},{"offset":0.489,"color":"#fff"},{"offset":0.495,"color":"#fff"},{"offset":0.495,"color":"#f33"},{"offset":0.4965,"color":"#f33"},{"offset":0.4965,"color":"#fff"},{"offset":0.5025,"color":"#fff"},{"offset":0.5025,"color":"#f33"},{"offset":0.504,"color":"#f33"},{"offset":0.504,"color":"#fff"},{"offset":0.51,"color":"#fff"},
{"offset":0.51,"color":"#f33"},{"offset":0.5115,"color":"#f33"},{"offset":0.5115,"color":"#fff"},{"offset":0.5175,"color":"#fff"},{"offset":0.5175,"color":"#f33"},{"offset":0.519,"color":"#f33"},{"offset":0.519,"color":"#fff"},{"offset":0.525,"color":"#fff"},{"offset":0.525,"color":"#f33"},{"offset":0.5265,"color":"#f33"},{"offset":0.5265,"color":"#fff"},{"offset":0.5325,"color":"#fff"},{"offset":0.5325,"color":"#f33"},{"offset":0.534,"color":"#f33"},{"offset":0.534,"color":"#fff"},{"offset":0.54,"color":"#fff"},
{"offset":0.54,"color":"#f33"},{"offset":0.5415,"color":"#f33"},{"offset":0.5415,"color":"#fff"},{"offset":0.5475,"color":"#fff"},{"offset":0.5475,"color":"#f33"},{"offset":0.549,"color":"#f33"},{"offset":0.549,"color":"#fff"},{"offset":0.555,"color":"#fff"},{"offset":0.555,"color":"#f33"},{"offset":0.5565,"color":"#f33"},{"offset":0.5565,"color":"#fff"},{"offset":0.5625,"color":"#fff"},{"offset":0.5625,"color":"#f33"},{"offset":0.564,"color":"#f33"},{"offset":0.564,"color":"#fff"},{"offset":0.57,"color":"#fff"},
{"offset":0.57,"color":"#f33"},{"offset":0.5715,"color":"#f33"},{"offset":0.5715,"color":"#fff"},{"offset":0.5775,"color":"#fff"},{"offset":0.5775,"color":"#f33"},{"offset":0.579,"color":"#f33"},{"offset":0.579,"color":"#fff"},{"offset":0.585,"color":"#fff"},{"offset":0.585,"color":"#f33"},{"offset":0.5865,"color":"#f33"},{"offset":0.5865,"color":"#fff"},{"offset":0.5925,"color":"#fff"},{"offset":0.5925,"color":"#f33"},{"offset":0.594,"color":"#f33"},{"offset":0.594,"color":"#fff"},{"offset":0.6,"color":"#fff"},
{"offset":0.6,"color":"#f33"},{"offset":0.6015,"color":"#f33"},{"offset":0.6015,"color":"#fff"},{"offset":0.6075,"color":"#fff"},{"offset":0.6075,"color":"#f33"},{"offset":0.609,"color":"#f33"},{"offset":0.609,"color":"#fff"},{"offset":0.615,"color":"#fff"},{"offset":0.615,"color":"#f33"},{"offset":0.6165,"color":"#f33"},{"offset":0.6165,"color":"#fff"},{"offset":0.6225,"color":"#fff"},{"offset":0.6225,"color":"#f33"},{"offset":0.624,"color":"#f33"},{"offset":0.624,"color":"#fff"},{"offset":0.63,"color":"#fff"},
{"offset":0.63,"color":"#f33"},{"offset":0.6315,"color":"#f33"},{"offset":0.6315,"color":"#fff"},{"offset":0.6375,"color":"#fff"},{"offset":0.6375,"color":"#f33"},{"offset":0.639,"color":"#f33"},{"offset":0.639,"color":"#fff"},{"offset":0.645,"color":"#fff"},{"offset":0.645,"color":"#f33"},{"offset":0.6465,"color":"#f33"},{"offset":0.6465,"color":"#fff"},{"offset":0.6525,"color":"#fff"},{"offset":0.6525,"color":"#f33"},{"offset":0.654,"color":"#f33"},{"offset":0.654,"color":"#fff"},{"offset":0.66,"color":"#fff"},
{"offset":0.66,"color":"#f33"},{"offset":0.6615,"color":"#f33"},{"offset":0.6615,"color":"#fff"},{"offset":0.6675,"color":"#fff"},{"offset":0.6675,"color":"#f33"},{"offset":0.669,"color":"#f33"},{"offset":0.669,"color":"#fff"},{"offset":0.675,"color":"#fff"},{"offset":0.675,"color":"#f33"},{"offset":0.6765,"color":"#f33"},{"offset":0.6765,"color":"#fff"},{"offset":0.6825,"color":"#fff"},{"offset":0.6825,"color":"#f33"},{"offset":0.684,"color":"#f33"},{"offset":0.684,"color":"#fff"},{"offset":0.69,"color":"#fff"},
{"offset":0.69,"color":"#f33"},{"offset":0.6915,"color":"#f33"},{"offset":0.6915,"color":"#fff"},{"offset":0.6975,"color":"#fff"},{"offset":0.6975,"color":"#f33"},{"offset":0.699,"color":"#f33"},{"offset":0.699,"color":"#fff"},{"offset":0.705,"color":"#fff"},{"offset":0.705,"color":"#f33"},{"offset":0.7065,"color":"#f33"},{"offset":0.7065,"color":"#fff"},{"offset":0.7125,"color":"#fff"},{"offset":0.7125,"color":"#f33"},{"offset":0.714,"color":"#f33"},{"offset":0.714,"color":"#fff"},{"offset":0.72,"color":"#fff"},
{"offset":0.72,"color":"#f33"},{"offset":0.7215,"color":"#f33"},{"offset":0.7215,"color":"#fff"},{"offset":0.7275,"color":"#fff"},{"offset":0.7275,"color":"#f33"},{"offset":0.729,"color":"#f33"},{"offset":0.729,"color":"#fff"},{"offset":0.735,"color":"#fff"},{"offset":0.735,"color":"#f33"},{"offset":0.7365,"color":"#f33"},{"offset":0.7365,"color":"#fff"},{"offset":0.7425,"color":"#fff"},{"offset":0.7425,"color":"#f33"},{"offset":0.744,"color":"#f33"},{"offset":0.744,"color":"#fff"},{"offset":0.75,"color":"#fff"},
{"offset":0.75,"color":"#f33"},{"offset":0.7515,"color":"#f33"},{"offset":0.7515,"color":"#fff"},{"offset":0.7575,"color":"#fff"},{"offset":0.7575,"color":"#f33"},{"offset":0.759,"color":"#f33"},{"offset":0.759,"color":"#fff"},{"offset":0.765,"color":"#fff"},{"offset":0.765,"color":"#f33"},{"offset":0.7665,"color":"#f33"},{"offset":0.7665,"color":"#fff"},{"offset":0.7725,"color":"#fff"},{"offset":0.7725,"color":"#f33"},{"offset":0.774,"color":"#f33"},{"offset":0.774,"color":"#fff"},{"offset":0.78,"color":"#fff"},
{"offset":0.78,"color":"#f33"},{"offset":0.7815,"color":"#f33"},{"offset":0.7815,"color":"#fff"},{"offset":0.7875,"color":"#fff"},{"offset":0.7875,"color":"#f33"},{"offset":0.789,"color":"#f33"},{"offset":0.789,"color":"#fff"},{"offset":0.795,"color":"#fff"},{"offset":0.795,"color":"#f33"},{"offset":0.7965,"color":"#f33"},{"offset":0.7965,"color":"#fff"},{"offset":0.8025,"color":"#fff"},{"offset":0.8025,"color":"#f33"},{"offset":0.804,"color":"#f33"},{"offset":0.804,"color":"#fff"},{"offset":0.81,"color":"#fff"},
{"offset":0.81,"color":"#f33"},{"offset":0.8115,"color":"#f33"},{"offset":0.8115,"color":"#fff"},{"offset":0.8175,"color":"#fff"},{"offset":0.8175,"color":"#f33"},{"offset":0.819,"color":"#f33"},{"offset":0.819,"color":"#fff"},{"offset":0.825,"color":"#fff"},{"offset":0.825,"color":"#f33"},{"offset":0.8265,"color":"#f33"},{"offset":0.8265,"color":"#fff"},{"offset":0.8325,"color":"#fff"},{"offset":0.8325,"color":"#f33"},{"offset":0.834,"color":"#f33"},{"offset":0.834,"color":"#fff"},{"offset":0.84,"color":"#fff"},
{"offset":0.84,"color":"#f33"},{"offset":0.8415,"color":"#f33"},{"offset":0.8415,"color":"#fff"},{"offset":0.8475,"color":"#fff"},{"offset":0.8475,"color":"#f33"},{"offset":0.849,"color":"#f33"},{"offset":0.849,"color":"#fff"},{"offset":0.855,"color":"#fff"},{"offset":0.855,"color":"#f33"},{"offset":0.8565,"color":"#f33"},{"offset":0.8565,"color":"#fff"},{"offset":0.8625,"color":"#fff"},{"offset":0.8625,"color":"#f33"},{"offset":0.864,"color":"#f33"},{"offset":0.864,"color":"#fff"},{"offset":0.87,"color":"#fff"},
{"offset":0.87,"color":"#f33"},{"offset":0.8715,"color":"#f33"},{"offset":0.8715,"color":"#fff"},{"offset":0.8775,"color":"#fff"},{"offset":0.8775,"color":"#f33"},{"offset":0.879,"color":"#f33"},{"offset":0.879,"color":"#fff"},{"offset":0.885,"color":"#fff"},{"offset":0.885,"color":"#f33"},{"offset":0.8865,"color":"#f33"},{"offset":0.8865,"color":"#fff"},{"offset":0.8925,"color":"#fff"},{"offset":0.8925,"color":"#f33"},{"offset":0.894,"color":"#f33"},{"offset":0.894,"color":"#fff"},{"offset":0.9,"color":"#fff"},
{"offset":0.9,"color":"#f33"},{"offset":0.9015,"color":"#f33"},{"offset":0.9015,"color":"#fff"},{"offset":0.9075,"color":"#fff"},{"offset":0.9075,"color":"#f33"},{"offset":0.909,"color":"#f33"},{"offset":0.909,"color":"#fff"},{"offset":0.915,"color":"#fff"},{"offset":0.915,"color":"#f33"},{"offset":0.9165,"color":"#f33"},{"offset":0.9165,"color":"#fff"},{"offset":0.9225,"color":"#fff"},{"offset":0.9225,"color":"#f33"},{"offset":0.924,"color":"#f33"},{"offset":0.924,"color":"#fff"},{"offset":0.93,"color":"#fff"},
{"offset":0.93,"color":"#f33"},{"offset":0.9315,"color":"#f33"},{"offset":0.9315,"color":"#fff"},{"offset":0.9375,"color":"#fff"},{"offset":0.9375,"color":"#f33"},{"offset":0.939,"color":"#f33"},{"offset":0.939,"color":"#fff"},{"offset":0.945,"color":"#fff"},{"offset":0.945,"color":"#f33"},{"offset":0.9465,"color":"#f33"},{"offset":0.9465,"color":"#fff"},{"offset":0.9525,"color":"#fff"},{"offset":0.9525,"color":"#f33"},{"offset":0.954,"color":"#f33"},{"offset":0.954,"color":"#fff"},{"offset":0.96,"color":"#fff"},
{"offset":0.96,"color":"#f33"},{"offset":0.9615,"color":"#f33"},{"offset":0.9615,"color":"#fff"},{"offset":0.9675,"color":"#fff"},{"offset":0.9675,"color":"#f33"},{"offset":0.969,"color":"#f33"},{"offset":0.969,"color":"#fff"},{"offset":0.975,"color":"#fff"},{"offset":0.975,"color":"#f33"},{"offset":0.9765,"color":"#f33"},{"offset":0.9765,"color":"#fff"},{"offset":0.9825,"color":"#fff"},{"offset":0.9825,"color":"#f33"},{"offset":0.984,"color":"#f33"},{"offset":0.984,"color":"#fff"},{"offset":0.99,"color":"#fff"},
{"offset":0.99,"color":"#f33"},{"offset":0.9915,"color":"#f33"},{"offset":0.9915,"color":"#fff"},{"offset":0.9975,"color":"#fff"},{"offset":0.9975,"color":"#f33"},{"offset":0.999,"color":"#f33"},{"offset":0.999,"color":"#fff"},{"offset":1,"color":"#fff"}
]}},
   "encoding":{"y":{"field":"dd","type":"quantitative","title":"含み益およびドローダウン(金額)"}}},
  {"mark":{"type":"line","strokeWidth":1.8},
   "encoding":{"y":{"field":"eq","type":"quantitative","title":"含み益およびドローダウン(金額)"},
    "color":{"datum":"資産含み益","type":"nominal","scale":{"range":["#228b22"]},
     "legend":{"title":null,"orient":"none","legendX":270,"legendY":1142,"symbolType":"M-1.5,-1L1.5,-1L1.5,1L-1.5,1Z","symbolSize":400,"symbolStrokeWidth":1,"labelLimit":0,
      "encode":{"symbols":{"update":{"fill":{"value":{"gradient":"linear","x1":0,"y1":0,"x2":1.1538,"y2":0.7692,"stops":[{"offset":0,"color":"#3a3"},{"offset":0.04,"color":"#3a3"},{"offset":0.04,"color":"#fff"},{"offset":0.25,"color":"#fff"},{"offset":0.25,"color":"#3a3"},{"offset":0.29,"color":"#3a3"},{"offset":0.29,"color":"#fff"},{"offset":0.5,"color":"#fff"},{"offset":0.5,"color":"#3a3"},{"offset":0.54,"color":"#3a3"},{"offset":0.54,"color":"#fff"},{"offset":0.75,"color":"#fff"},{"offset":0.75,"color":"#3a3"},{"offset":0.79,"color":"#3a3"},{"offset":0.79,"color":"#fff"},{"offset":1,"color":"#fff"}]}}}}}}}}},
  {"mark":{"type":"line","strokeWidth":1.8},
   "encoding":{"y":{"field":"dd","type":"quantitative","title":"含み益およびドローダウン(金額)"},
    "color":{"datum":"資産ドローダウン","type":"nominal","scale":{"range":["#ff0000"]},
     "legend":{"title":null,"orient":"none","legendX":450,"legendY":1142,"symbolType":"M-1.5,-1L1.5,-1L1.5,1L-1.5,1Z","symbolSize":400,"symbolStrokeWidth":1,"labelLimit":0,
      "encode":{"symbols":{"update":{"fill":{"value":{"gradient":"linear","x1":0,"y1":0,"x2":1.1538,"y2":0.7692,"stops":[{"offset":0,"color":"#f33"},{"offset":0.04,"color":"#f33"},{"offset":0.04,"color":"#fff"},{"offset":0.25,"color":"#fff"},{"offset":0.25,"color":"#f33"},{"offset":0.29,"color":"#f33"},{"offset":0.29,"color":"#fff"},{"offset":0.5,"color":"#fff"},{"offset":0.5,"color":"#f33"},{"offset":0.54,"color":"#f33"},{"offset":0.54,"color":"#fff"},{"offset":0.75,"color":"#fff"},{"offset":0.75,"color":"#f33"},{"offset":0.79,"color":"#f33"},{"offset":0.79,"color":"#fff"},{"offset":1,"color":"#fff"}]}}}}}}}}}
 ],
 "resolve":{"scale":{"color":"independent"}}},
{"mark":{"type":"rule","color":"#000","strokeWidth":1.5},"encoding":{"y":{"datum":0}}}
],
"config":{
 "view":{"stroke":null},
 "font":"Liberation Sans, Noto Sans CJK JP",
 "axis":{"domainColor":"#333","domainWidth":1.5,"tickColor":"#333","tickWidth":1.5,"tickSize":8,
   "gridColor":"#b5b0a5","gridDash":[4,4],"gridWidth":1,
   "labelFont":"Liberation Sans","labelFontSize":21,"labelColor":"#222","labelLimit":0,
   "titleFont":"Noto Sans CJK JP","titleFontSize":21,"titleFontWeight":"normal","titleColor":"#000"},
 "legend":{"labelFont":"Noto Sans CJK JP","labelFontSize":22,"labelColor":"#000","labelOffset":8,"padding":0,"columnPadding":20,"labelLimit":0}
}
}
